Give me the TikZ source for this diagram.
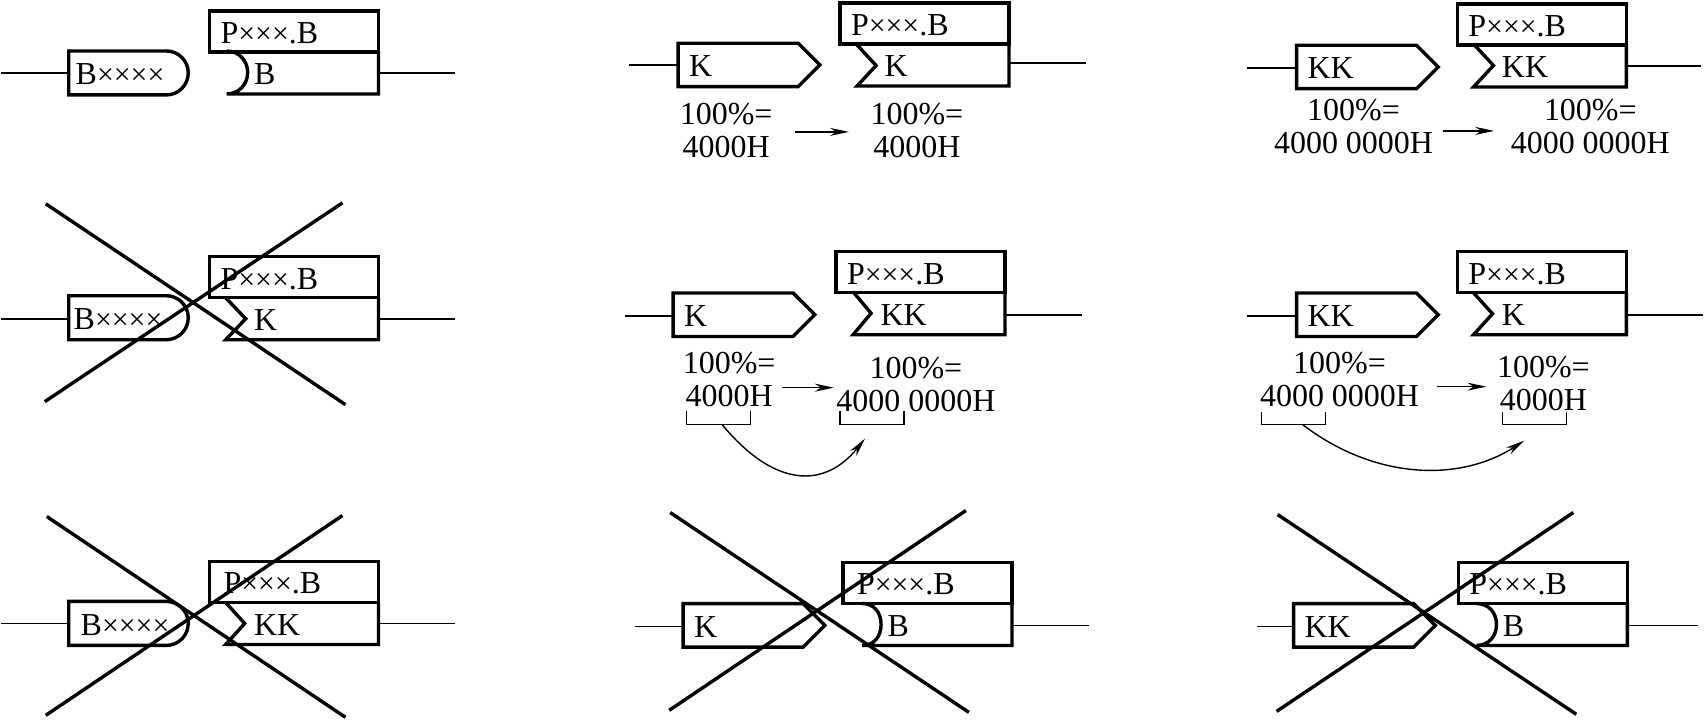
\documentclass[tikz,border=0pt]{standalone}
\usepackage{fontspec}
\setmainfont{Liberation Serif}
\usepackage{tikz}
\usetikzlibrary{arrows.meta, positioning, shapes.symbols, shapes.misc}
\newcommand{\xc}{{\fontsize{8.5}{9}\selectfont ×}}

\begin{document}
\begin{tikzpicture}[
  x=0.01cm, y=-0.01cm,
  font=\fontsize{9.1}{9.4}\selectfont,
  part/.style={line width=0.034cm},
  wire/.style={line width=0.016cm},
  crossline/.style={line width=0.034cm},
  bracket/.style={line width=0.012cm},
  arrow/.style={-{Stealth[length=0.19cm, width=0.08cm]}, line width=0.014cm},
  pbox/.style={draw, part, rectangle, anchor=north west, outer sep=0pt, minimum height=0.41cm, text width=1.47cm, inner xsep=0.11cm, inner ysep=0pt, align=left, text height=0.24cm, text depth=0pt},
  sock/.style={rectangle, anchor=north east, outer sep=0pt, minimum height=0.42cm, text width=1.245cm, inner xsep=0pt, inner ysep=0pt, align=left, text height=0.24cm, text depth=0pt},
  plugk/.style={draw, part, signal, signal to=east, anchor=west, outer sep=0pt, minimum height=0.435cm, text width=0.98cm, inner xsep=0.11cm, inner ysep=0pt, align=left, text height=0.24cm, text depth=0pt},
  plugb/.style={draw, part, rounded rectangle, rounded rectangle left arc=none, anchor=west, outer sep=0pt, minimum height=0.44cm, text width=1.02cm, inner xsep=0.07cm, inner ysep=0pt, align=left, text height=0.24cm, text depth=0pt},
  lab/.style={align=center, inner sep=0pt},
]
  % first column
  \node[plugb] (pl11) at (68,73) {B\xc\xc\xc\xc};
  \node[pbox] (pb11) at (209,11) {P\xc\xc\xc.B};
  \node[sock] (so11) at (pb11.south east) {B};
  \coordinate (wl11) at (0,73);
  \coordinate (wr11) at (455,73);
  \draw[wire] (wl11) -- (wl11 -| pl11.west);
  \draw[wire] (wr11 -| so11.east) -- (wr11);
  \draw[part] (so11.north east) -- (so11.south east) -- ++(-152,0) .. controls +(12,0) and +(0,12) .. ++(21,-21.5) .. controls +(0,-12) and +(12,0) .. ++(-21,-21.5);

  \node[plugb] (pl21) at (68,318) {\hspace*{-0.02cm}B\xc\xc\xc\xc};
  \node[pbox] (pb21) at (209,257) {P\xc\xc\xc.B};
  \node[sock] (so21) at (pb21.south east) {K};
  \coordinate (wl21) at (0,319);
  \coordinate (wr21) at (455,319);
  \draw[wire] (wl21) -- (wl21 -| pl21.west);
  \draw[wire] (wr21 -| so21.east) -- (wr21);
  \draw[part] (so21.north east) -- (so21.south east) -- ++(-153,0) -- ++(20,-21) -- ++(-20,-21);
  \coordinate (xa21) at (45,204);
  \coordinate (xb21) at (345,405);
  \coordinate (xc21) at (44,402);
  \coordinate (xd21) at (342,203);
  \draw[crossline] (xa21) -- (xb21);
  \draw[crossline] (xc21) -- (xd21);

  \node[plugb] (pl31) at (68,624) {\hspace*{0.05cm}B\xc\xc\xc\xc};
  \node[pbox] (pb31) at (209,562) {\hspace*{0.03cm}P\xc\xc\xc.B};
  \node[sock] (so31) at (pb31.south east) {KK};
  \coordinate (wl31) at (0,624);
  \coordinate (wr31) at (455,624);
  \draw[wire] (wl31) -- (wl31 -| pl31.west);
  \draw[wire] (wr31 -| so31.east) -- (wr31);
  \draw[part] (so31.north east) -- (so31.south east) -- ++(-153,0) -- ++(19,-21) -- ++(-19,-21);
  \coordinate (xa31) at (46,517);
  \coordinate (xb31) at (345,718);
  \coordinate (xc31) at (45,716);
  \coordinate (xd31) at (342,516);
  \draw[crossline] (xa31) -- (xb31);
  \draw[crossline] (xc31) -- (xd31);

  % second column
  \node[plugk] (pl12) at (678,65) {K};
  \node[pbox] (pb12) at (840,3) {P\xc\xc\xc.B};
  \node[sock] (so12) at (pb12.south east) {K};
  \coordinate (wl12) at (629,65);
  \coordinate (wr12) at (1086,63);
  \draw[wire] (wl12) -- (wl12 -| pl12.west);
  \draw[wire] (wr12 -| so12.east) -- (wr12);
  \draw[part] (so12.north east) -- (so12.south east) -- ++(-152,0) -- ++(19,-20.5) -- ++(-19,-20.5);
  \node[lab] (tl12) at (726,131) {100\%=\\4000H};
  \node[lab] (tr12) at (917,131) {100\%=\\4000H};
  \draw[arrow] ([shift={(22,1)}]tl12.east) -- ([shift={(-21,1)}]tr12.west);

  \node[plugk] (pl22) at (673,315) {K};
  \node[pbox] (pb22) at (836,252) {P\xc\xc\xc.B};
  \node[sock] (so22) at (pb22.south east) {KK};
  \coordinate (wl22) at (625,316);
  \coordinate (wr22) at (1082,315);
  \draw[wire] (wl22) -- (wl22 -| pl22.west);
  \draw[wire] (wr22 -| so22.east) -- (wr22);
  \draw[part] (so22.north east) -- (so22.south east) -- ++(-152,0) -- ++(18,-21.5) -- ++(-18,-21.5);
  \node[lab] (tl22) at (729,380) {100\%=\\4000H};
  \node[lab] (tr22) at (916,385) {100\%=\\4000 0000H};
  \draw[arrow] ([shift={(6,8)}]tl22.east) -- ([shift={(-2,3)}]tr22.west);
  \draw[bracket] (686,411) -- ++(0,14) -- ++(64,0) -- ++(0,-14);
  \draw[bracket] (840,411) -- ++(0,14) -- ++(64,0) -- ++(0,-14);
  \coordinate (cs22) at (722,425);
  \coordinate (ce22) at (865,439);
  \draw[arrow] (cs22) .. controls (775,489) and (825,489) .. (ce22);

  \node[plugk] (pl32) at (683,626) {K};
  \node[pbox] (pb32) at (843,563) {\hspace*{0.03cm}P\xc\xc\xc.B};
  \node[sock] (so32) at (pb32.south east) {B};
  \coordinate (wl32) at (635,627);
  \coordinate (wr32) at (1089,626);
  \draw[wire] (wl32) -- (wl32 -| pl32.west);
  \draw[wire] (wr32 -| so32.east) -- (wr32);
  \draw[part] (so32.north east) -- (so32.south east) -- ++(-150,0) .. controls +(12,0) and +(0,12) .. ++(19,-21) .. controls +(0,-12) and +(12,0) .. ++(-19,-21);
  \coordinate (xa32) at (670,513);
  \coordinate (xb32) at (969,713);
  \coordinate (xc32) at (669,711);
  \coordinate (xd32) at (966,511);
  \draw[crossline] (xa32) -- (xb32);
  \draw[crossline] (xc32) -- (xd32);

  % third column
  \node[plugk] (pl13) at (1297,67) {KK};
  \node[pbox] (pb13) at (1458,4) {P\xc\xc\xc.B};
  \node[sock] (so13) at (pb13.south east) {KK};
  \coordinate (wl13) at (1247,68);
  \coordinate (wr13) at (1702,66);
  \draw[wire] (wl13) -- (wl13 -| pl13.west);
  \draw[wire] (wr13 -| so13.east) -- (wr13);
  \draw[part] (so13.north east) -- (so13.south east) -- ++(-153,0) -- ++(20,-21.5) -- ++(-20,-21.5);
  \node[lab] (tl13) at (1354,127) {100\%=\\4000 0000H};
  \node[lab] (tr13) at (1591,127) {100\%=\\4000 0000H};
  \draw[arrow] ([shift={(9,4)}]tl13.east) -- ([shift={(-16,4)}]tr13.west);

  \node[plugk] (pl23) at (1297,315) {KK};
  \node[pbox] (pb23) at (1458,252) {P\xc\xc\xc.B};
  \node[sock] (so23) at (pb23.south east) {K};
  \coordinate (wl23) at (1247,316);
  \coordinate (wr23) at (1704,315);
  \draw[wire] (wl23) -- (wl23 -| pl23.west);
  \draw[wire] (wr23 -| so23.east) -- (wr23);
  \draw[part] (so23.north east) -- (so23.south east) -- ++(-153,0) -- ++(19,-21) -- ++(-19,-21);
  \node[lab] (tl23) at (1340,380) {100\%=\\4000 0000H};
  \node[lab] (tr23) at (1544,384) {100\%=\\4000H};
  \draw[arrow] ([shift={(17,7)}]tl23.east) -- ([shift={(-10,3)}]tr23.west);
  \draw[bracket] (1262,412) -- ++(0,13) -- ++(64,0) -- ++(0,-13);
  \draw[bracket] (1503,412) -- ++(0,13) -- ++(64,0) -- ++(0,-13);
  \coordinate (cs23) at (1303,425);
  \coordinate (ce23) at (1525,441);
  \draw[arrow] (cs23) .. controls (1375,480) and (1460,483) .. (ce23);

  \node[plugk] (pl33) at (1294,626) {KK};
  \node[pbox] (pb33) at (1459,563) {P\xc\xc\xc.B};
  \node[sock] (so33) at (pb33.south east) {B};
  \coordinate (wl33) at (1257,627);
  \coordinate (wr33) at (1699,626);
  \draw[wire] (wl33) -- (wl33 -| pl33.west);
  \draw[wire] (wr33 -| so33.east) -- (wr33);
  \draw[part] (so33.north east) -- (so33.south east) -- ++(-151,0) .. controls +(12,0) and +(0,12) .. ++(20,-21) .. controls +(0,-12) and +(12,0) .. ++(-20,-21);
  \coordinate (xa33) at (1278,515);
  \coordinate (xb33) at (1577,715);
  \coordinate (xc33) at (1277,712);
  \coordinate (xd33) at (1574,513);
  \draw[crossline] (xa33) -- (xb33);
  \draw[crossline] (xc33) -- (xd33);

  \useasboundingbox (0,0) rectangle (1704,720);
\end{tikzpicture}
\end{document}
